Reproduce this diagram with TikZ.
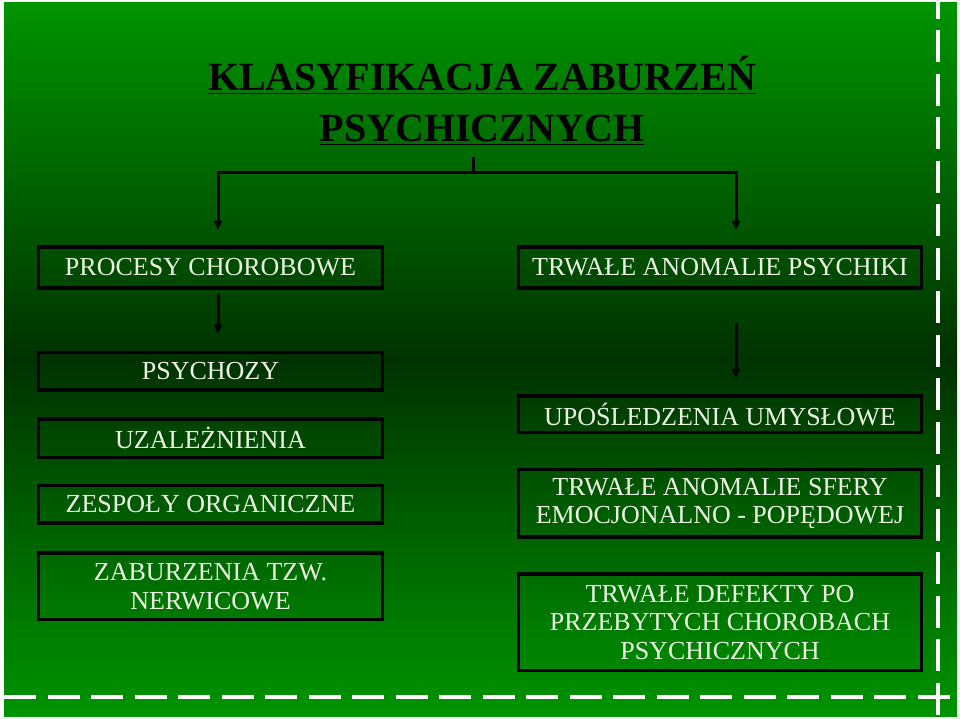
\documentclass[tikz,border=0pt]{standalone}
\usepackage{fontspec}
\setmainfont{Liberation Serif}
\usetikzlibrary{positioning, arrows.meta}

\definecolor{slidegreen}{RGB}{0,148,0}
\definecolor{deepgreen}{RGB}{0,50,0}
\definecolor{paletext}{RGB}{236,244,228}

\begin{document}
\begin{tikzpicture}[x=1pt, y=-1pt, node distance=25.5pt, >={Triangle[length=9pt, width=8pt]}]

    % Styles
    \tikzstyle{box} = [rectangle, draw=black, line width=3.6pt, text=paletext, align=center, inner sep=2pt, font=\fontsize{26}{28.5}\selectfont]
    \tikzstyle{leftbox} = [box, minimum width=344pt]
    \tikzstyle{rightbox} = [box, minimum width=403pt]
    \tikzstyle{heading} = [text=black, align=center, font=\fontsize{40}{51}\selectfont\bfseries]
    \tikzstyle{connector} = [draw=black, line width=3pt]
    \tikzstyle{arrow} = [connector, ->]
    \tikzstyle{border} = [draw=white, line width=4pt, dash pattern=on 32pt off 11.5pt]

    % Background
    \fill[white] (0,0) rectangle (960,716);
    \shade[top color=slidegreen, bottom color=slidegreen, middle color=deepgreen] (4,0) rectangle (957,714);
    \draw[border, dash phase=15.5pt] (938,0) -- (938,714);
    \draw[border] (4,695) -- (957,695);

    % Title
    \node[heading] (title) at (482,98.5) {\underline{KLASYFIKACJA ZABURZEŃ}\\\underline{PSYCHICZNYCH}};

    % Left column
    \node[leftbox, minimum height=41.5pt] (procesy) at (210.5,265.5) {PROCESY CHOROBOWE};
    \node[leftbox, minimum height=37.5pt] (psychozy) [below=60.5pt of procesy] {PSYCHOZY};
    \node[leftbox, minimum height=38.5pt] (uzaleznienia) [below=of psychozy] {UZALEŻNIENIA};
    \node[leftbox, minimum height=37.5pt] (zespoly) [below=24.5pt of uzaleznienia] {ZESPOŁY ORGANICZNE};
    \node[leftbox, minimum height=66.5pt] (zaburzenia) [below=26.5pt of zespoly] {ZABURZENIA TZW.\\NERWICOWE};

    % Right column
    \node[rightbox, minimum height=41.5pt] (anomalie) at (720,265.5) {TRWAŁE ANOMALIE PSYCHIKI};
    \node[rightbox, minimum height=36.5pt] (uposledzenia) [below=104pt of anomalie] {UPOŚLEDZENIA UMYSŁOWE};
    \node[rightbox, minimum height=67.5pt] (sfery) [below=33.5pt of uposledzenia] {TRWAŁE ANOMALIE SFERY\\EMOCJONALNO - POPĘDOWEJ};
    \node[rightbox, minimum height=96.5pt] (defekty) [below=33.5pt of sfery] {TRWAŁE DEFEKTY PO\\PRZEBYTYCH CHOROBACH\\PSYCHICZNYCH};

    % Arrows
    \coordinate (title_stub) at (473,155);
    \coordinate (fork) at (473,170);
    \coordinate (fork_left) at (218,170);
    \coordinate (fork_right) at (736,170);

    \draw[connector] (title_stub) -- (fork);
    \draw[arrow] (fork) -- (fork_left) -- ([yshift=15pt]procesy.north -| fork_left);
    \draw[arrow] (fork) -- (fork_right) -- ([yshift=15pt]anomalie.north -| fork_right);

    \draw[arrow] ([yshift=-3pt]procesy.south -| fork_left) -- ([yshift=17pt]psychozy.north -| fork_left);
    \draw[arrow] ([yshift=-33pt]anomalie.south -| fork_right) -- ([yshift=16pt]uposledzenia.north -| fork_right);

\end{tikzpicture}
\end{document}
